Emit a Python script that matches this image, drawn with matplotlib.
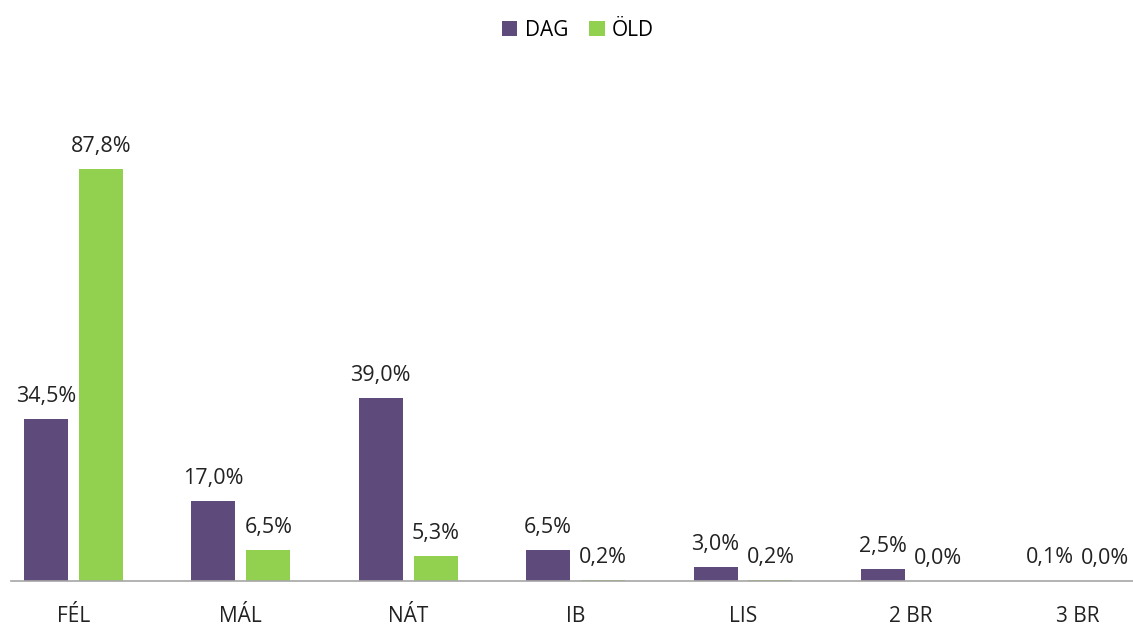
import matplotlib
matplotlib.use("Agg")
import matplotlib.pyplot as plt
import numpy as np

categories = ["FÉL", "MÁL", "NÁT", "IB", "LIS", "2 BR", "3 BR"]
dag = [34.5, 17.0, 39.0, 6.5, 3.0, 2.5, 0.1]
old = [87.8, 6.5, 5.3, 0.2, 0.2, 0.0, 0.0]

purple = "#5E4B7B"
green = "#92D050"

plt.rcParams["font.family"] = ["Open Sans", "DejaVu Sans"]

fig = plt.figure(figsize=(11.33, 6.28), dpi=100)
ax = fig.add_axes([11 / 1133, 47 / 628, 1 - 11 / 1133, 521 / 628])

x = np.arange(len(categories))
w = 0.263
off = 0.164
b1 = ax.bar(x - off, dag, w, color=purple, label="DAG")
b2 = ax.bar(x + off, old, w, color=green, label="ÖLD")

for bars, vals in ((b1, dag), (b2, old)):
    for rect, v in zip(bars, vals):
        ax.annotate(f"{v:.1f}%".replace(".", ","),
                    (rect.get_x() + rect.get_width() / 2, rect.get_height()),
                    xytext=(0, 12.5), textcoords="offset points",
                    ha="center", va="baseline", fontsize=15.5, color="#222222")

ax.set_xlim(-0.373, 6.33)
ax.set_ylim(0, 111)
ax.set_xticks(x)
ax.set_xticklabels(categories, fontsize=15, color="#222222")
ax.tick_params(axis="x", length=0, pad=18)
ax.set_yticks([])
for s in ["top", "right", "left"]:
    ax.spines[s].set_visible(False)
ax.spines["bottom"].set_color("#A6A6A6")
ax.spines["bottom"].set_linewidth(1.2)

fig.legend(loc="upper center", bbox_to_anchor=(0.51, 0.998), ncol=2,
           frameon=False, fontsize=15, handlelength=0.75, handleheight=0.75,
           handletextpad=0.35, columnspacing=1.0)

fig.savefig("out.png", dpi=100)
